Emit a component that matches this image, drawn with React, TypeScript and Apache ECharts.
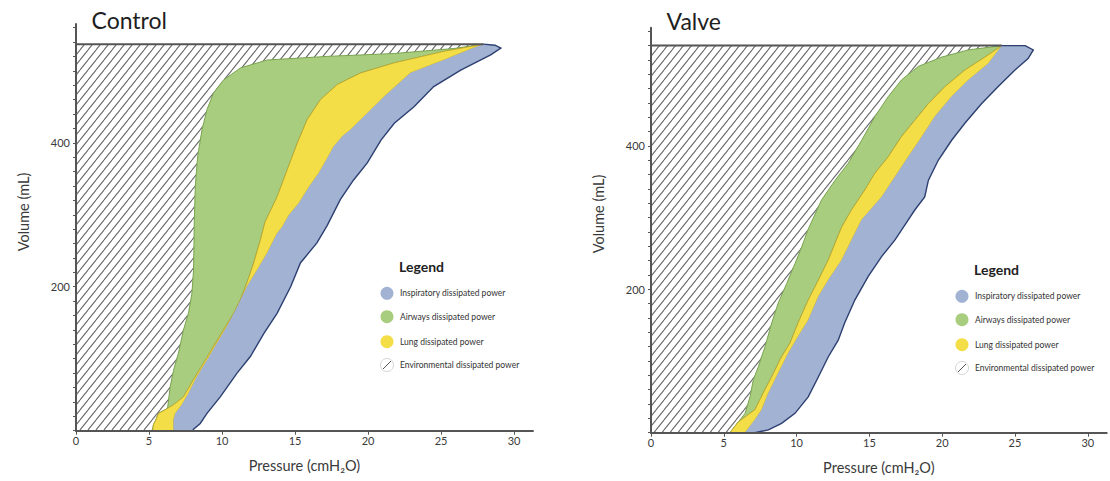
import React, { useEffect, useRef } from "react";
import * as echarts from "echarts";

// ---------- data (pressure cmH2O, volume mL), each curve listed bottom -> top ----------
const panelTitles = ["Control", "Valve"];
const pressureTicks = [0, 5, 10, 15, 20, 25, 30];
const volumeLabels = [200, 400];
const volumeTicks = [0, 20, 40, 60, 80, 100, 120, 140, 160, 180, 200, 220, 240, 260, 280, 300, 320, 340, 360, 380, 400, 420, 440, 460, 480, 500, 520, 540, 560];
const legendLabels = ["Inspiratory dissipated power", "Airways dissipated power", "Lung dissipated power", "Environmental dissipated power"];

const controlTopVolume = 537;
const valveTopVolume = 540;

// Control: green left edge (boundary of hatched area)
const controlA = [[5.26, 0], [5.3, 8], [5.47, 15], [5.65, 24], [6.27, 31], [6.45, 61], [6.68, 84], [7.02, 108], [7.36, 140], [7.7, 163], [7.94, 191], [8.05, 223], [8.08, 260], [8.1, 290], [8.17, 339], [8.33, 381], [8.63, 418], [8.97, 446], [9.42, 469], [10.1, 487], [11.26, 504], [13.1, 515], [17.2, 520], [21.8, 524], [25.9, 531], [27.9, 537]];
// Control: green / yellow boundary
const controlB = [[5.26, 0], [5.3, 8], [5.47, 15], [5.65, 24], [6.27, 31], [6.68, 36], [7.36, 47], [8.05, 71], [8.74, 94], [9.42, 117], [10.1, 140], [10.8, 163], [11.26, 182], [11.7, 205], [12.17, 233], [12.63, 265], [12.95, 290], [13.78, 325], [14.46, 362], [15.15, 399], [15.83, 432], [16.75, 460], [17.9, 481], [19.5, 497], [21.8, 511], [25.2, 527], [27.9, 537]];
// Control: yellow / blue boundary
const controlC = [[6.68, 0], [6.68, 15], [6.8, 24], [7.25, 36], [7.71, 52], [8.28, 75], [8.97, 98], [9.66, 122], [10.34, 145], [11.03, 172], [11.7, 200], [12.4, 223], [13.1, 247], [13.77, 274], [14.12, 283], [14.6, 300], [15.26, 316], [16.0, 340], [16.63, 358], [17.2, 378], [17.66, 395], [18.3, 410], [18.8, 418], [19.95, 441], [21.1, 464], [22.9, 497], [25.2, 515], [27.0, 530], [27.9, 537]];
// Control: blue right edge
const controlD = [[8.0, 0], [8.05, 2], [8.51, 10], [8.97, 24], [9.88, 47], [11.03, 80], [11.94, 103], [12.86, 135], [13.77, 163], [14.7, 200], [15.37, 233], [16.5, 261], [17.2, 285], [18.1, 321], [19.0, 348], [19.95, 372], [20.9, 404], [21.8, 427], [23.15, 450], [24.5, 478], [26.35, 501], [28.4, 522], [29.1, 531.5], [28.7, 535.5], [27.9, 537]];

// Valve
const valveA = [[5.43, 0], [5.65, 6], [6.0, 15], [6.46, 27], [6.8, 50], [7.03, 74], [7.37, 92], [7.83, 120], [8.29, 153], [8.74, 181], [9.32, 208], [9.89, 236], [10.35, 259], [10.8, 284], [11.72, 325], [12.64, 352], [13.55, 376], [14.47, 408], [15.38, 441], [16.3, 469], [17.2, 492], [18.36, 511], [19.97, 524], [21.8, 534], [24.1, 540]];
const valveB = [[5.43, 0], [5.65, 6], [6.0, 15], [6.46, 22], [7.14, 32], [7.7, 55], [8.29, 78], [8.97, 106], [9.55, 125], [10.1, 153], [10.8, 185], [11.5, 213], [12.18, 241], [12.64, 264], [13.1, 287], [13.78, 311], [14.7, 339], [15.38, 362], [16.3, 385], [17.2, 413], [18.13, 436], [19.05, 459], [20.2, 483], [21.57, 506], [22.94, 524], [24.1, 540]];
const valveC = [[6.46, 0], [6.68, 6], [7.14, 18], [7.6, 32], [8.06, 55], [8.74, 83], [9.43, 111], [10.1, 134], [10.8, 157], [11.5, 190], [12.18, 213], [13.1, 241], [13.78, 269], [14.47, 297], [15.85, 329], [16.76, 357], [17.67, 385], [18.6, 413], [19.5, 441], [20.65, 469], [21.8, 492], [23.17, 515], [24.1, 540]];
const valveD = [[7.14, 0], [8.06, 4], [8.97, 13], [9.89, 27], [10.8, 50], [11.5, 78], [12.18, 106], [12.86, 129], [13.3, 153], [14.0, 185], [14.92, 218], [15.85, 246], [16.76, 269], [17.67, 297], [18.13, 311], [18.8, 329], [19.05, 352], [19.73, 380], [20.65, 408], [21.57, 432], [22.7, 459], [23.85, 483], [25.0, 506], [25.9, 522], [26.26, 534], [25.7, 540], [24.1, 540]];

// ---------- styling ----------
const FONT = "Lato, 'Open Sans', sans-serif";
const GREEN = "#a8cd7e";
const GREEN_EDGE = "#78a34f";
const YELLOW = "#f4de48";
const YELLOW_EDGE = "#bfa52c";
const BLUE = "#a1b2d3";
const NAVY = "#2c3f70";
const AXIS = "#555555";

type Pt = number[];

function makeHatch(): HTMLCanvasElement {
  const c = document.createElement("canvas");
  c.width = 8;
  c.height = 10;
  const ctx = c.getContext("2d")!;
  ctx.fillStyle = "#ffffff";
  ctx.fillRect(0, 0, 8, 10);
  ctx.strokeStyle = "#6a6a6a";
  ctx.lineWidth = 1.1;
  for (const dx of [-8, 0, 8]) {
    ctx.beginPath();
    ctx.moveTo(dx, 10);
    ctx.lineTo(dx + 8, 0);
    ctx.stroke();
  }
  return c;
}

function region(idx: number, left: Pt[], right: Pt[], style: any, z: number) {
  return {
    type: "custom",
    coordinateSystem: "cartesian2d",
    xAxisIndex: idx,
    yAxisIndex: idx,
    data: [[0, 0]],
    silent: true,
    clip: false,
    z,
    renderItem: (_p: any, api: any) => {
      const pts = left.map((p) => api.coord(p)).concat(right.slice().reverse().map((p) => api.coord(p)));
      return { type: "polygon", shape: { points: pts }, style };
    },
  };
}

function polyline(idx: number, pts: Pt[], style: any, z: number) {
  return {
    type: "custom",
    coordinateSystem: "cartesian2d",
    xAxisIndex: idx,
    yAxisIndex: idx,
    data: [[0, 0]],
    silent: true,
    clip: false,
    z,
    renderItem: (_p: any, api: any) => ({
      type: "polyline",
      shape: { points: pts.map((p) => api.coord(p)) },
      style: { fill: "none", ...style },
    }),
  };
}

const grids = [
  { left: 76, top: 24, width: 457, height: 406.7 },
  { left: 651, top: 27.7, width: 455.7, height: 405 },
];

function legendGraphics(ox: number, oy: number) {
  const colors = [BLUE, GREEN, YELLOW];
  const rows = [293.3, 316.7, 341.7, 365];
  const els: any[] = [
    { type: "text", x: ox + 399, y: oy + 266, style: { text: "Legend", font: `bold 14px ${FONT}`, fill: "#222", verticalAlign: "middle" } },
  ];
  legendLabels.forEach((label, i) => {
    const cy = oy + rows[i];
    const cx = ox + 387;
    if (i < 3) {
      els.push({ type: "circle", shape: { cx, cy, r: 6.5 }, style: { fill: colors[i] } });
    } else {
      els.push({ type: "circle", shape: { cx, cy, r: 6.5 }, style: { fill: "#fff", stroke: "#d4d4d4", lineWidth: 1 } });
      els.push({ type: "line", shape: { x1: cx - 4, y1: cy + 4, x2: cx + 4, y2: cy - 4 }, style: { stroke: "#555", lineWidth: 1 } });
    }
    els.push({ type: "text", x: ox + 400, y: cy, style: { text: label, font: `8.5px ${FONT}`, fill: "#333", verticalAlign: "middle" } });
  });
  return els;
}

export default function App() {
  const ref = useRef<HTMLDivElement>(null);
  useEffect(() => {
    document.body.style.margin = "0";
    if (!ref.current) return;
    const chart = echarts.init(ref.current, null, { renderer: "svg" });
    const hatch = { image: makeHatch(), repeat: "repeat" };

    const panels = [
      { A: controlA, B: controlB, C: controlC, D: controlD, top: controlTopVolume },
      { A: valveA, B: valveB, C: valveC, D: valveD, top: valveTopVolume },
    ];

    const series: any[] = [];
    panels.forEach((p, i) => {
      const topEnd = p.A[p.A.length - 1][0];
      series.push(region(i, [[0, 0], [0, p.top]], p.A, { fill: hatch, stroke: "none" }, 1));
      series.push(region(i, p.A, p.B, { fill: GREEN, stroke: GREEN_EDGE, lineWidth: 1 }, 2));
      series.push(region(i, p.B, p.C, { fill: YELLOW, stroke: YELLOW_EDGE, lineWidth: 0.8 }, 3));
      series.push(region(i, p.C, p.D, { fill: BLUE, stroke: "none" }, 4));
      series.push(polyline(i, p.D, { stroke: NAVY, lineWidth: 1.4 }, 5));
      series.push(polyline(i, [[0, p.top], [topEnd, p.top]], { stroke: AXIS, lineWidth: 2 }, 6));
    });

    const xAxes = grids.map((_, i) => ({
      type: "value",
      gridIndex: i,
      min: 0,
      max: 31.3,
      z: 10,
      axisLine: { show: true, onZero: false, lineStyle: { color: AXIS, width: 2 } },
      axisTick: { show: true, customValues: pressureTicks, length: 4, lineStyle: { color: AXIS, width: 1 } },
      axisLabel: { customValues: pressureTicks, color: "#3a3a3a", fontSize: 11, fontFamily: FONT, margin: 4 },
      splitLine: { show: false },
      name: "Pressure (cmH\u2082O)",
      nameLocation: "middle",
      nameGap: 35,
      nameTextStyle: { color: "#3a3a3a", fontSize: 14.5, fontFamily: FONT, verticalAlign: "middle" },
    }));
    const yAxes = grids.map((_, i) => ({
      type: "value",
      gridIndex: i,
      min: 0,
      max: 565,
      z: 10,
      axisLine: { show: true, onZero: false, lineStyle: { color: AXIS, width: 2 } },
      axisTick: { show: true, customValues: volumeTicks, length: 3, lineStyle: { color: AXIS, width: 1 } },
      axisLabel: { customValues: volumeLabels, color: "#3a3a3a", fontSize: 11, fontFamily: FONT, margin: 6 },
      splitLine: { show: false },
    }));

    const graphics: any[] = [
      { type: "text", x: 91.5, y: 20, style: { text: panelTitles[0], font: `23px ${FONT}`, fill: "#1e1e1e", verticalAlign: "middle" } },
      { type: "text", x: 666.5, y: 21, style: { text: panelTitles[1], font: `23px ${FONT}`, fill: "#1e1e1e", verticalAlign: "middle" } },
      { type: "text", x: 23, y: 212, rotation: Math.PI / 2, style: { text: "Volume (mL)", font: `14.5px ${FONT}`, fill: "#3a3a3a", align: "center", verticalAlign: "middle" } },
      { type: "text", x: 598, y: 214, rotation: Math.PI / 2, style: { text: "Volume (mL)", font: `14.5px ${FONT}`, fill: "#3a3a3a", align: "center", verticalAlign: "middle" } },
      ...legendGraphics(0, 0),
      ...legendGraphics(575, 3),
    ];

    chart.setOption({
      animation: false,
      backgroundColor: "#ffffff",
      grid: grids.map((g) => ({ ...g, containLabel: false, outerBoundsMode: "none" })),
      xAxis: xAxes,
      yAxis: yAxes,
      series,
      graphic: graphics,
    });
    return () => chart.dispose();
  }, []);
  return <div ref={ref} style={{ width: 1110, height: 481 }} />;
}
